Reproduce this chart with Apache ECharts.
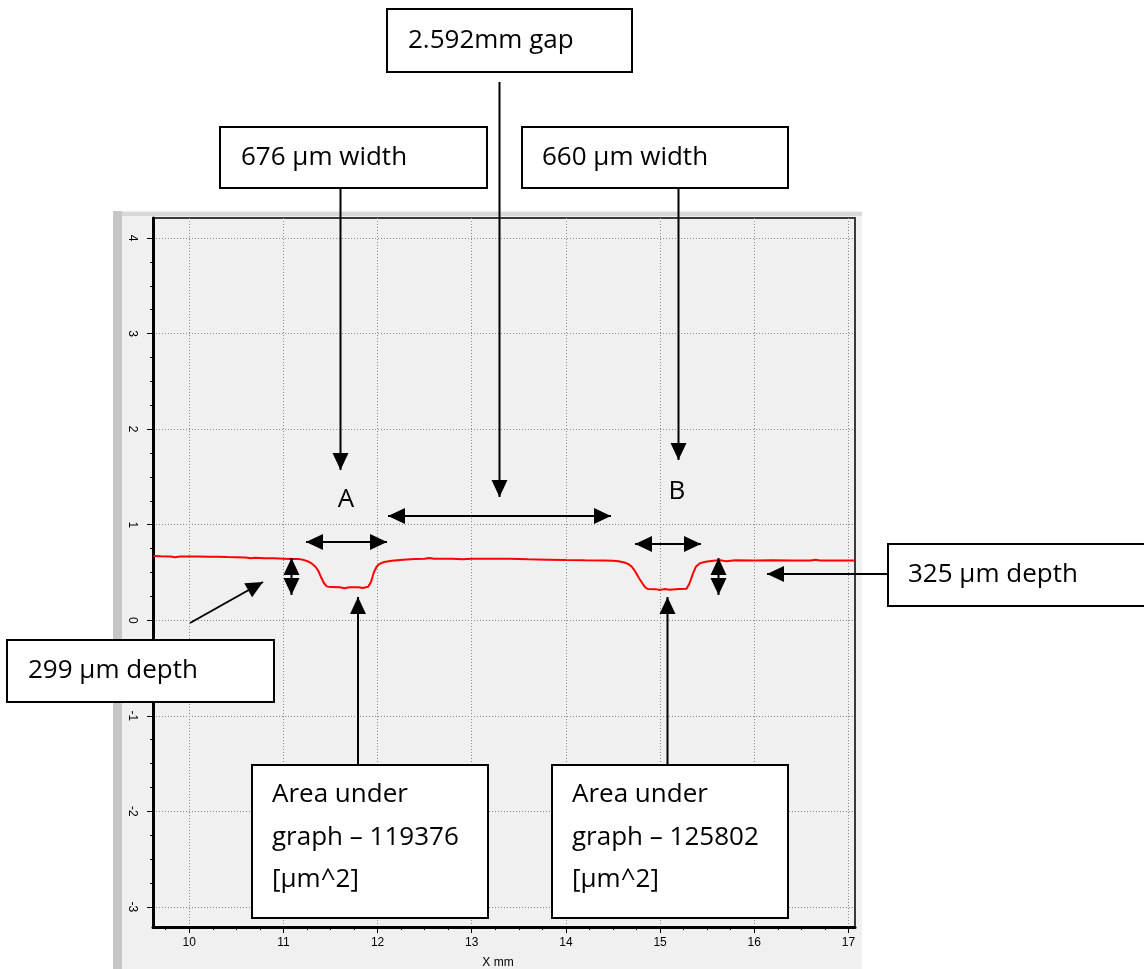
<!DOCTYPE html>
<html><head><meta charset="utf-8">
<script src="https://cdn.jsdelivr.net/npm/echarts@6/dist/echarts.min.js"></script>
<style>html,body{margin:0;padding:0;background:#fff}#c{width:1144px;height:969px}</style>
</head><body><div id="c"></div>
<script>
// ---- data ----
const profileX = [9.62, 9.70, 9.80, 9.85, 9.90, 10.00, 10.10, 10.20, 10.30, 10.40, 10.50, 10.60, 10.65, 10.70, 10.80, 10.90, 11.00, 11.10, 11.17,
  11.22, 11.27, 11.30, 11.34, 11.37, 11.40, 11.43, 11.46, 11.50, 11.60, 11.65, 11.70, 11.80, 11.84, 11.90,
  11.93, 11.96, 11.99, 12.02, 12.07, 12.15, 12.27, 12.40, 12.50, 12.55, 12.60, 12.80, 12.90, 13.00, 13.20, 13.40, 13.60, 13.80, 14.00, 14.20, 14.40, 14.50,
  14.56, 14.62, 14.66, 14.70, 14.73, 14.76, 14.78, 14.81, 14.84, 14.87, 14.95, 15.00, 15.05, 15.10, 15.20, 15.28,
  15.31, 15.35, 15.38, 15.42, 15.45, 15.50, 15.59, 15.65, 15.70, 15.80, 16.00, 16.20, 16.40, 16.60, 16.65, 16.70, 16.90, 17.07];
const profileY = [0.672, 0.670, 0.668, 0.660, 0.668, 0.667, 0.668, 0.664, 0.665, 0.662, 0.660, 0.658, 0.650, 0.655, 0.650, 0.648, 0.645, 0.642, 0.640,
  0.630, 0.612, 0.595, 0.560, 0.520, 0.450, 0.390, 0.355, 0.347, 0.345, 0.336, 0.346, 0.346, 0.338, 0.350,
  0.400, 0.500, 0.560, 0.590, 0.610, 0.622, 0.634, 0.640, 0.643, 0.652, 0.644, 0.645, 0.638, 0.645, 0.645, 0.644, 0.638, 0.634, 0.630, 0.627, 0.626, 0.624,
  0.618, 0.605, 0.590, 0.560, 0.520, 0.470, 0.435, 0.390, 0.347, 0.327, 0.326, 0.318, 0.327, 0.320, 0.327, 0.330,
  0.380, 0.490, 0.560, 0.595, 0.605, 0.615, 0.626, 0.627, 0.618, 0.627, 0.626, 0.627, 0.626, 0.625, 0.634, 0.625, 0.626, 0.626];
const xMajorTicks = [10, 11, 12, 13, 14, 15, 16, 17];
const xMinorTicks = [9.75, 10.25, 10.5, 10.75, 11.25, 11.5, 11.75, 12.25, 12.5, 12.75, 13.25, 13.5, 13.75,
  14.25, 14.5, 14.75, 15.25, 15.5, 15.75, 16.25, 16.5, 16.75];
const yMajorTicks = [-3, -2, -1, 0, 1, 2, 3, 4];
const yMinorTicks = [-3, -2.75, -2.5, -2.25, -2, -1.75, -1.5, -1.25, -1, -0.75, -0.5, -0.25, 0, 0.25, 0.5, 0.75,
  1, 1.25, 1.5, 1.75, 2, 2.25, 2.5, 2.75, 3, 3.25, 3.5, 3.75, 4];
const xAxisName = 'X mm';
const labelGap = '2.592mm gap';
const labelWidthA = '676 µm width';
const labelWidthB = '660 µm width';
const labelDepthA = '299 µm depth';
const labelDepthB = '325 µm depth';
const labelAreaA = ['Area under', 'graph – 119376', '[µm^2]'];
const labelAreaB = ['Area under', 'graph – 125802', '[µm^2]'];
const markA = 'A';
const markB = 'B';

// ---- annotation helpers ----
const FONT = '26px "Open Sans"';
const els = [];
function box(x, y, w, h, lines, tx, firstMid, lh) {
  els.push({type: 'rect', z: 100, shape: {x: x, y: y, width: w, height: h}, style: {fill: '#fff', stroke: '#000', lineWidth: 2}});
  lines.forEach(function (t, i) {
    els.push({type: 'text', z: 101, x: tx, y: firstMid + i * lh, style: {text: t, font: FONT, fill: '#000', align: 'left', verticalAlign: 'middle'}});
  });
}
function head(tx, ty, fx, fy) {
  const L = 17, W = 8;
  const dx = tx - fx, dy = ty - fy, d = Math.sqrt(dx * dx + dy * dy);
  const ux = dx / d, uy = dy / d;
  const bx = tx - ux * L, by = ty - uy * L;
  els.push({type: 'polygon', z: 100, shape: {points: [[tx, ty], [bx - uy * W, by + ux * W], [bx + uy * W, by - ux * W]]}, style: {fill: '#000'}});
}
function arrow(x1, y1, x2, y2, both) {
  els.push({type: 'line', z: 100, shape: {x1: x1, y1: y1, x2: x2, y2: y2}, style: {stroke: '#000', lineWidth: 2}});
  head(x2, y2, x1, y1);
  if (both) head(x1, y1, x2, y2);
}
function label(t, x, y) {
  els.push({type: 'text', z: 101, x: x, y: y, style: {text: t, font: FONT, fill: '#000', align: 'center', verticalAlign: 'middle'}});
}

// window frame of the profiler software
const frame = [
  {type: 'rect', z: -100, shape: {x: 113, y: 211, width: 749, height: 758}, style: {fill: '#f0f0f0'}},
  {type: 'rect', z: -99, shape: {x: 113, y: 212, width: 749, height: 4}, style: {fill: '#d8d8d8'}},
  {type: 'rect', z: -99, shape: {x: 113, y: 211, width: 9, height: 758}, style: {fill: '#c6c6c6'}}
];

box(387, 9, 245, 63, [labelGap], 408, 41, 0);
box(220, 127, 267, 61, [labelWidthA], 241, 158, 0);
box(522, 127, 266, 61, [labelWidthB], 542, 158, 0);
box(7, 640, 267, 62, [labelDepthA], 28, 671, 0);
box(888, 544, 262, 62, [labelDepthB], 908, 575, 0);
box(252, 765, 236, 153, labelAreaA, 272, 795, 42.5);
box(552, 765, 236, 153, labelAreaB, 572, 795, 42.5);

arrow(499.5, 82, 499.5, 497);
arrow(340.5, 188, 340.5, 470);
arrow(678.5, 188, 678.5, 460);
arrow(388, 516, 611, 516, true);
arrow(306, 542, 387, 542, true);
arrow(635, 544, 701, 544, true);
arrow(291.5, 558, 291.5, 595, true);
arrow(718.5, 558, 718.5, 595, true);
arrow(190, 623, 263, 582);
arrow(888, 574, 767, 574);
arrow(358, 765, 358, 597);
arrow(667.5, 765, 667.5, 597);
label(markA, 346, 500);
label(markB, 677, 492);

const chart = echarts.init(document.getElementById('c'), null, {renderer: 'canvas'});
const XMIN = 9.615, XMAX = 17.07, YMIN = -3.21, YMAX = 4.21;
const tickFont = {color: '#000', fontSize: 12, fontFamily: 'Liberation Sans'};
chart.setOption({
  animation: false,
  backgroundColor: '#fff',
  grid: {left: 153, right: 289, top: 218, bottom: 42, outerBoundsMode: 'none', containLabel: false,
    show: true, backgroundColor: 'transparent', borderColor: '#3a3a3a', borderWidth: 2},
  xAxis: [
    {type: 'value', min: XMIN, max: XMAX, position: 'bottom',
      axisLine: {show: true, onZero: false, lineStyle: {color: '#000', width: 3}},
      axisTick: {show: true, customValues: xMajorTicks, length: 6, lineStyle: {color: '#000', width: 1}},
      axisLabel: Object.assign({customValues: xMajorTicks, margin: 10}, tickFont),
      splitLine: {show: true, lineStyle: {color: '#8a8a8a', width: 1, type: [1, 2]}},
      name: xAxisName, nameLocation: 'middle', nameGap: 30,
      nameTextStyle: {color: '#000', fontSize: 12, fontFamily: 'Liberation Sans', padding: [0, 12, 0, 0]}},
    {type: 'value', min: XMIN, max: XMAX, position: 'bottom',
      axisLine: {show: false, onZero: false},
      axisTick: {show: true, customValues: xMinorTicks, length: 3, lineStyle: {color: '#000', width: 1}},
      axisLabel: {show: false}, splitLine: {show: false}}
  ],
  yAxis: [
    {type: 'value', min: YMIN, max: YMAX, position: 'left',
      axisLine: {show: true, onZero: false, lineStyle: {color: '#000', width: 3}},
      axisTick: {show: true, customValues: yMajorTicks, length: 6, lineStyle: {color: '#000', width: 1}},
      axisLabel: Object.assign({customValues: yMajorTicks, rotate: -90, margin: 15}, tickFont),
      splitLine: {show: true, lineStyle: {color: '#8a8a8a', width: 1, type: [1, 2]}}},
    {type: 'value', min: YMIN, max: YMAX, position: 'left',
      axisLine: {show: false, onZero: false},
      axisTick: {show: true, customValues: yMinorTicks, length: 3, lineStyle: {color: '#000', width: 1}},
      axisLabel: {show: false}, splitLine: {show: false}}
  ],
  graphic: {elements: frame.concat(els)},
  series: [{
    type: 'line', xAxisIndex: 0, yAxisIndex: 0, showSymbol: false, clip: true,
    lineStyle: {color: '#ff0000', width: 2},
    data: profileX.map(function (x, i) { return [x, profileY[i]]; })
  }]
});
</script></body></html>
